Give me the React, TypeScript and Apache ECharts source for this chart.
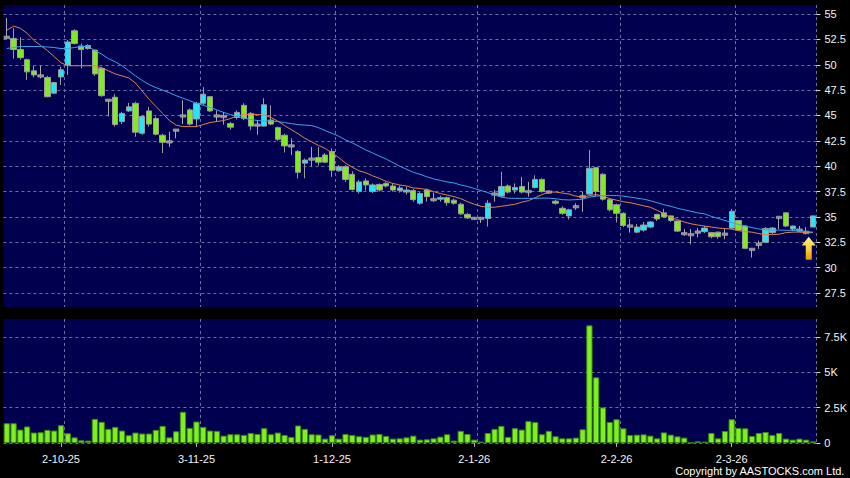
import React, { useEffect, useRef } from "react";
import * as echarts from "echarts";

// Trading days (D-M-YY)
const DATES: string[] = [
  "19-9-25", "22-9-25", "23-9-25", "24-9-25", "25-9-25", "26-9-25", "29-9-25", "30-9-25",
  "2-10-25", "3-10-25", "6-10-25", "8-10-25", "9-10-25", "10-10-25", "13-10-25", "14-10-25", "15-10-25", "16-10-25",
  "17-10-25", "20-10-25", "21-10-25", "22-10-25", "23-10-25", "24-10-25", "27-10-25", "28-10-25", "30-10-25", "31-10-25",
  "3-11-25", "4-11-25", "5-11-25", "6-11-25", "7-11-25", "10-11-25", "11-11-25", "12-11-25", "13-11-25", "14-11-25",
  "17-11-25", "18-11-25", "19-11-25", "20-11-25", "21-11-25", "24-11-25", "25-11-25", "26-11-25", "27-11-25", "28-11-25",
  "1-12-25", "2-12-25", "3-12-25", "4-12-25", "5-12-25", "8-12-25", "9-12-25", "10-12-25", "11-12-25", "12-12-25",
  "15-12-25", "16-12-25", "17-12-25", "18-12-25", "19-12-25", "22-12-25", "23-12-25", "24-12-25", "29-12-25", "30-12-25", "31-12-25",
  "2-1-26", "5-1-26", "6-1-26", "7-1-26", "8-1-26", "9-1-26", "12-1-26", "13-1-26", "14-1-26", "15-1-26", "16-1-26",
  "19-1-26", "20-1-26", "21-1-26", "22-1-26", "23-1-26", "26-1-26", "27-1-26", "28-1-26", "29-1-26", "30-1-26",
  "2-2-26", "3-2-26", "4-2-26", "5-2-26", "6-2-26", "9-2-26", "10-2-26", "11-2-26", "12-2-26", "13-2-26",
  "16-2-26", "20-2-26", "23-2-26", "24-2-26", "25-2-26", "26-2-26", "27-2-26",
  "2-3-26", "3-3-26", "4-3-26", "5-3-26", "6-3-26", "9-3-26", "10-3-26", "11-3-26", "12-3-26", "13-3-26",
  "16-3-26", "17-3-26", "18-3-26",
];

const OPEN: number[] = [
  52.7, 52.6, 51.5, 50.5, 49.4, 48.9, 48.75, 47.2, 48.8, 49.95,
  53.35, 51.85, 51.6, 51.45, 49.65, 46.5, 46.8, 44.4, 45.45, 46.2,
  43.25, 45.45, 44.7, 43.05, 42.4, 43.55, 44.95, 45.55, 44.65, 46.2,
  46.85, 44.95, 44.9, 44.2, 44.8, 46.0, 45.2, 44.05, 43.95, 44.55,
  43.8, 43.05, 42.0, 41.45, 40.3, 40.7, 40.85, 41.1, 41.45, 39.55,
  39.95, 39.2, 37.5, 38.55, 37.5, 38.2, 38.3, 38.05, 37.6, 37.45,
  37.6, 36.35, 37.65, 36.7, 36.75, 36.9, 36.65, 36.25, 35.25, 34.85,
  34.85, 34.85, 37.25, 37.05, 38.05, 37.65, 38.0, 37.5, 37.9, 38.7,
  37.45, 36.55, 35.85, 35.1, 36.0, 37.0, 37.25, 39.85, 39.2, 36.7,
  36.2, 35.35, 34.1, 33.5, 33.7, 34.0, 35.25, 35.4, 35.1, 34.6,
  33.35, 33.25, 33.5, 33.55, 33.45, 33.5, 33.3, 33.9, 34.65, 34.1,
  31.8, 32.3, 32.5, 33.45, 34.95, 35.4, 33.8, 33.7, 33.47, 34.0,
];
const CLOSE: number[] = [
  52.7, 51.5, 50.7, 49.3, 49.0, 48.9, 46.85, 48.25, 49.5, 52.25,
  52.1, 51.5, 51.9, 49.1, 46.95, 46.5, 44.1, 45.2, 45.85, 43.35,
  44.9, 44.15, 43.15, 42.35, 42.4, 43.55, 44.95, 44.15, 46.2, 47.1,
  45.45, 44.95, 44.9, 43.85, 45.3, 44.7, 43.95, 44.05, 46.05, 44.15,
  42.65, 42.0, 42.0, 39.4, 40.6, 40.7, 40.4, 40.4, 39.6, 39.95,
  38.7, 37.7, 38.45, 38.15, 38.15, 37.65, 38.05, 37.65, 37.85, 37.65,
  36.7, 37.3, 37.0, 36.7, 36.9, 36.4, 36.35, 35.3, 34.9, 34.85,
  34.85, 36.35, 37.25, 38.0, 37.45, 37.9, 37.45, 37.5, 38.7, 37.5,
  37.45, 36.35, 35.35, 35.7, 36.0, 37.0, 39.8, 37.5, 36.75, 35.7,
  35.35, 34.15, 34.1, 34.0, 34.2, 34.5, 34.8, 35.0, 34.65, 33.6,
  33.35, 33.25, 33.5, 33.9, 33.05, 33.05, 33.3, 35.55, 33.7, 31.9,
  31.8, 32.3, 33.85, 33.9, 34.95, 34.1, 34.1, 33.7, 33.47, 35.1,
];
const LOW: number[] = [
  52.5, 50.6, 50.5, 48.5, 48.75, 48.65, 46.8, 47.1, 48.0, 49.0,
  52.0, 49.65, 51.5, 48.9, 46.85, 44.9, 43.9, 44.15, 45.35, 42.9,
  43.1, 43.9, 43.05, 41.3, 41.9, 42.75, 44.15, 44.0, 43.9, 46.0,
  45.35, 44.4, 44.1, 43.6, 44.6, 44.55, 43.55, 43.1, 43.9, 44.05,
  42.5, 41.35, 41.1, 38.8, 38.8, 39.95, 40.05, 40.3, 38.95, 39.45,
  38.45, 37.6, 37.3, 37.6, 37.35, 37.5, 37.9, 37.5, 37.4, 37.2,
  36.5, 36.2, 36.5, 36.5, 36.5, 36.1, 36.2, 35.2, 34.8, 34.7,
  34.4, 34.05, 36.5, 36.9, 37.3, 37.3, 37.3, 37.0, 37.8, 37.4,
  37.3, 36.2, 35.2, 34.75, 35.7, 35.5, 37.15, 37.0, 36.6, 35.55,
  34.45, 34.0, 33.45, 33.4, 33.55, 33.9, 34.6, 34.9, 34.5, 33.5,
  33.15, 32.3, 33.0, 33.4, 32.9, 32.85, 32.8, 33.8, 33.6, 31.8,
  31.0, 31.85, 32.4, 33.3, 33.8, 34.0, 33.6, 33.5, 33.3, 34.0,
];
const HIGH: number[] = [
  54.6, 53.6, 52.7, 50.6, 49.9, 49.9, 48.9, 48.3, 49.8, 52.45,
  53.5, 52.1, 52.0, 51.5, 49.8, 46.6, 47.1, 45.35, 46.25, 46.35,
  45.05, 45.85, 44.9, 43.2, 43.4, 43.65, 46.5, 45.7, 46.35, 47.8,
  46.9, 45.5, 45.35, 44.35, 45.5, 46.2, 45.35, 44.55, 46.7, 46.0,
  43.9, 43.2, 42.75, 41.6, 40.75, 41.9, 41.9, 41.3, 41.75, 40.1,
  40.1, 39.5, 38.65, 38.8, 38.3, 38.3, 38.5, 38.3, 38.1, 38.0,
  37.75, 37.45, 37.8, 37.4, 37.1, 37.0, 36.8, 36.4, 35.4, 35.0,
  35.0, 36.65, 37.65, 39.45, 38.2, 38.3, 38.95, 38.45, 39.1, 38.8,
  37.6, 36.7, 36.05, 35.8, 36.35, 37.5, 41.6, 39.9, 39.3, 36.85,
  36.3, 35.45, 34.8, 34.3, 34.5, 34.6, 35.3, 35.8, 35.15, 34.65,
  33.8, 33.8, 33.9, 34.1, 33.5, 33.55, 33.8, 35.8, 34.7, 34.2,
  31.95, 32.65, 34.0, 34.0, 35.05, 35.45, 34.15, 34.1, 34.0, 35.1,
];

// Volume in thousands
const VOLUME: number[] = [
  1.4, 1.4, 0.95, 1.17, 0.74, 0.76, 0.93, 0.88, 1.26, 0.69,
  0.4, 0.19, 0.17, 1.71, 1.5, 1.0, 1.14, 0.88, 0.55, 0.74,
  0.67, 0.67, 0.93, 1.21, 0.4, 0.83, 2.21, 1.07, 1.52, 1.14,
  0.88, 0.86, 0.52, 0.62, 0.62, 0.57, 0.71, 0.64, 1.05, 0.62,
  0.74, 0.57, 0.43, 1.24, 1.0, 0.62, 0.6, 0.31, 0.55, 0.31,
  0.64, 0.57, 0.48, 0.43, 0.6, 0.64, 0.5, 0.31, 0.33, 0.4,
  0.52, 0.24, 0.26, 0.33, 0.45, 0.62, 0.17, 0.86, 0.64, 0.24,
  0.1, 0.71, 1.0, 1.21, 0.43, 1.05, 0.95, 1.55, 1.48, 0.62,
  0.86, 0.48, 0.33, 0.33, 0.38, 0.97, 8.33, 4.65, 2.52, 1.49,
  1.68, 1.04, 0.57, 0.59, 0.61, 0.52, 0.33, 0.75, 0.59, 0.47,
  0.38, 0.02, 0.12, 0.1, 0.71, 0.33, 0.85, 1.68, 1.06, 1.04,
  0.5, 0.71, 0.78, 0.57, 0.71, 0.31, 0.24, 0.31, 0.24, 0.12,
];

const MA_SHORT: number[] = [
  53.4, 53.8, 53.6, 53.1, 52.4, 51.9, 51.4, 50.8, 50.2, 49.9,
  49.9, 49.9, 49.9, 49.9, 49.7, 49.4, 49.1, 48.9, 48.7, 48.2,
  47.4, 46.6, 45.9, 45.2, 44.5, 44.05, 43.9, 43.9, 43.9, 44.1,
  44.3, 44.4, 44.5, 44.7, 44.95, 45.1, 45.1, 45.1, 45.05, 44.8,
  44.45, 44.0, 43.6, 43.2, 42.75, 42.4, 42.05, 41.75, 41.3, 40.85,
  40.3, 39.9, 39.55, 39.35, 39.05, 38.8, 38.5, 38.3, 38.15, 38.05,
  37.85, 37.8, 37.7, 37.5, 37.3, 37.15, 37.0, 36.8, 36.5, 36.25,
  36.05, 35.95, 35.95, 36.05, 36.15, 36.25, 36.45, 36.6, 36.9, 37.2,
  37.45, 37.45, 37.35, 37.25, 37.05, 36.95, 37.1, 37.2, 37.05, 36.8,
  36.65, 36.5, 36.4, 36.25, 36.1, 35.95, 35.65, 35.3, 34.95, 34.72,
  34.5, 34.32, 34.2, 34.1, 34.0, 33.9, 33.85, 33.8, 33.65, 33.55,
  33.5, 33.35, 33.25, 33.25, 33.3, 33.45, 33.5, 33.5, 33.45, 33.45,
];
const MA_LONG: number[] = [
  51.6, 51.7, 51.8, 51.8, 51.8, 51.8, 51.75, 51.7, 51.6, 51.6,
  51.7, 51.8, 51.8, 51.4, 51.05, 50.6, 50.3, 49.9, 49.4, 48.9,
  48.45, 48.05, 47.75, 47.5, 47.25, 46.95, 46.7, 46.45, 46.2, 46.0,
  45.8, 45.55, 45.3, 45.1, 44.9, 44.75, 44.6, 44.5, 44.45, 44.45,
  44.4, 44.3, 44.2, 44.1, 44.05, 44.0, 43.8, 43.5, 43.25, 42.95,
  42.6, 42.3, 41.95, 41.6, 41.3, 41.0, 40.7, 40.35, 40.0, 39.7,
  39.4, 39.2, 38.95, 38.75, 38.6, 38.45, 38.35, 38.15, 38.0, 37.8,
  37.6, 37.4, 37.15, 36.95, 36.85, 36.83, 36.83, 36.83, 36.83, 36.85,
  36.85, 36.8, 36.7, 36.67, 36.7, 36.75, 36.95, 37.05, 37.1, 37.1,
  37.1, 37.05, 36.95, 36.85, 36.75, 36.6, 36.4, 36.2, 36.05, 35.85,
  35.7, 35.55, 35.4, 35.3, 35.05, 34.85, 34.65, 34.45, 34.25, 34.1,
  33.95, 33.8, 33.75, 33.7, 33.7, 33.68, 33.67, 33.65, 33.55, 33.5,
];

const PRICE_TICKS: number[] = [27.5, 30, 32.5, 35, 37.5, 40, 42.5, 45, 47.5, 50, 52.5, 55];
const VOLUME_TICKS: number[] = [0, 2.5, 5, 7.5];

const ARROW_AT = { index: 118, value: 31.9 };

const FONT = '"Liberation Sans", Arial, sans-serif';
const NAVY = "#00004f";
const GRID_LINE = { color: "#66719f", width: 1, type: [3, 3] as number[] };

export default function App() {
  const ref = useRef<HTMLDivElement>(null);

  useEffect(() => {
    if (!ref.current) return;
    const chart = echarts.init(ref.current, null, { renderer: "svg" });

    const month = (d: string) => d.split("-")[1];
    const monthStart = new Set<number>();
    DATES.forEach((d, i) => {
      if (i > 0 && month(d) !== month(DATES[i - 1])) monthStart.add(i);
    });
    const isLabel = (i: number) => monthStart.has(i);
    const isGrid = (i: number) => monthStart.has(i - 1);

    const flatStyle = {
      color: "#9a9a9a",
      color0: "#9a9a9a",
      borderColor: "#a8a8a8",
      borderColor0: "#a8a8a8",
    };
    const candleData = DATES.map((_, i) => {
      const v = [OPEN[i], CLOSE[i], LOW[i], HIGH[i]];
      if (OPEN[i] === CLOSE[i]) return { value: v, itemStyle: flatStyle };
      return v;
    });
    const flatBodies = DATES.map((d, i) => (OPEN[i] === CLOSE[i] ? [d, OPEN[i]] : null)).filter(
      (x) => x !== null
    ) as any[];

    const left = 3.4;
    const right = 33.6;

    const option: any = {
      animation: false,
      backgroundColor: "#000000",
      textStyle: { fontFamily: FONT },
      grid: [
        { left, right, top: 5, height: 302, show: true, backgroundColor: NAVY, borderWidth: 0 },
        { left, right, top: 319, height: 124, show: true, backgroundColor: NAVY, borderWidth: 0 },
      ],
      xAxis: [
        {
          type: "category",
          gridIndex: 0,
          data: DATES,
          boundaryGap: true,
          axisLine: { show: false },
          axisTick: { show: false },
          axisLabel: { show: false },
          splitLine: { show: true, interval: isGrid, lineStyle: GRID_LINE },
        },
        {
          type: "category",
          gridIndex: 1,
          data: DATES,
          boundaryGap: true,
          axisLine: { show: false },
          axisTick: {
            show: true,
            alignWithLabel: true,
            interval: isLabel,
            length: 4,
            lineStyle: { color: "#b0b0b0" },
          },
          axisLabel: {
            show: true,
            interval: isLabel,
            color: "#f2f2f2",
            fontSize: 11,
            fontFamily: FONT,
            margin: 10,
          },
          splitLine: { show: true, interval: isGrid, lineStyle: GRID_LINE },
        },
      ],
      yAxis: [
        {
          type: "value",
          gridIndex: 0,
          position: "right",
          min: 26.12,
          max: 55.89,
          axisLine: { show: false },
          axisTick: {
            show: true,
            length: 4,
            customValues: PRICE_TICKS,
            lineStyle: { color: "#d8d8d8" },
          },
          axisLabel: {
            show: true,
            customValues: PRICE_TICKS,
            color: "#f2f2f2",
            fontSize: 11,
            fontFamily: FONT,
            margin: 8,
          },
          splitLine: { show: true, lineStyle: GRID_LINE },
        },
        {
          type: "value",
          gridIndex: 1,
          position: "right",
          min: 0,
          max: 8.78,
          axisLine: { show: false },
          axisTick: {
            show: true,
            length: 4,
            customValues: VOLUME_TICKS,
            lineStyle: { color: "#d8d8d8" },
          },
          axisLabel: {
            show: true,
            customValues: VOLUME_TICKS,
            color: "#f2f2f2",
            fontSize: 11,
            fontFamily: FONT,
            margin: 8,
            formatter: (v: number) => (v === 0 ? "0" : `${v}K`),
          },
          splitLine: { show: true, lineStyle: GRID_LINE },
        },
      ],
      series: [
        {
          name: "Price",
          type: "candlestick",
          xAxisIndex: 0,
          yAxisIndex: 0,
          data: candleData,
          barWidth: "86%",
          z: 2,
          itemStyle: {
            color: "#25e6f5",
            color0: "#82ea22",
            borderColor: "#9c9c9c",
            borderColor0: "#9c9c9c",
            borderWidth: 1,
          },
          markPoint: {
            silent: true,
            symbol: "path://M7,0 L14,9 L10,9 L10,24 L4,24 L4,9 L0,9 Z",
            symbolSize: [14, 23],
            symbolOffset: [2.5, 0],
            label: { show: false },
            itemStyle: {
              color: new echarts.graphic.LinearGradient(0, 0, 0, 1, [
                { offset: 0, color: "#fff47a" },
                { offset: 0.5, color: "#ffd23a" },
                { offset: 1, color: "#e69a00" },
              ]),
            },
            data: [{ coord: [DATES[ARROW_AT.index], ARROW_AT.value] }],
          },
        },
        {
          name: "Flat",
          type: "scatter",
          xAxisIndex: 0,
          yAxisIndex: 0,
          data: flatBodies,
          symbol: "rect",
          symbolSize: [5.6, 2.5],
          z: 3,
          silent: true,
          itemStyle: { color: "#8f8f8f", borderColor: "#c4c4c4", borderWidth: 0.6 },
        },
        {
          name: "MA10",
          type: "line",
          xAxisIndex: 0,
          yAxisIndex: 0,
          data: MA_SHORT,
          showSymbol: false,
          smooth: false,
          z: 4,
          lineStyle: { color: "#e2824e", width: 1 },
        },
        {
          name: "MA20",
          type: "line",
          xAxisIndex: 0,
          yAxisIndex: 0,
          data: MA_LONG,
          showSymbol: false,
          smooth: false,
          z: 4,
          lineStyle: { color: "#3aa4e8", width: 1 },
        },
        {
          name: "Volume",
          type: "bar",
          xAxisIndex: 1,
          yAxisIndex: 1,
          data: VOLUME,
          barWidth: "92%",
          itemStyle: { color: "#7ef022", borderColor: "#3c8a10", borderWidth: 1 },
        },
      ],
      graphic: [
        {
          type: "text",
          right: 5,
          top: 465,
          style: {
            text: "Copyright by AASTOCKS.com Ltd.",
            fill: "#ffffff",
            font: `11px ${FONT}`,
          },
        },
      ],
    };

    chart.setOption(option);
    return () => chart.dispose();
  }, []);

  return (
    <div
      ref={ref}
      style={{ position: "fixed", left: 0, top: 0, width: 850, height: 478, background: "#000" }}
    />
  );
}
